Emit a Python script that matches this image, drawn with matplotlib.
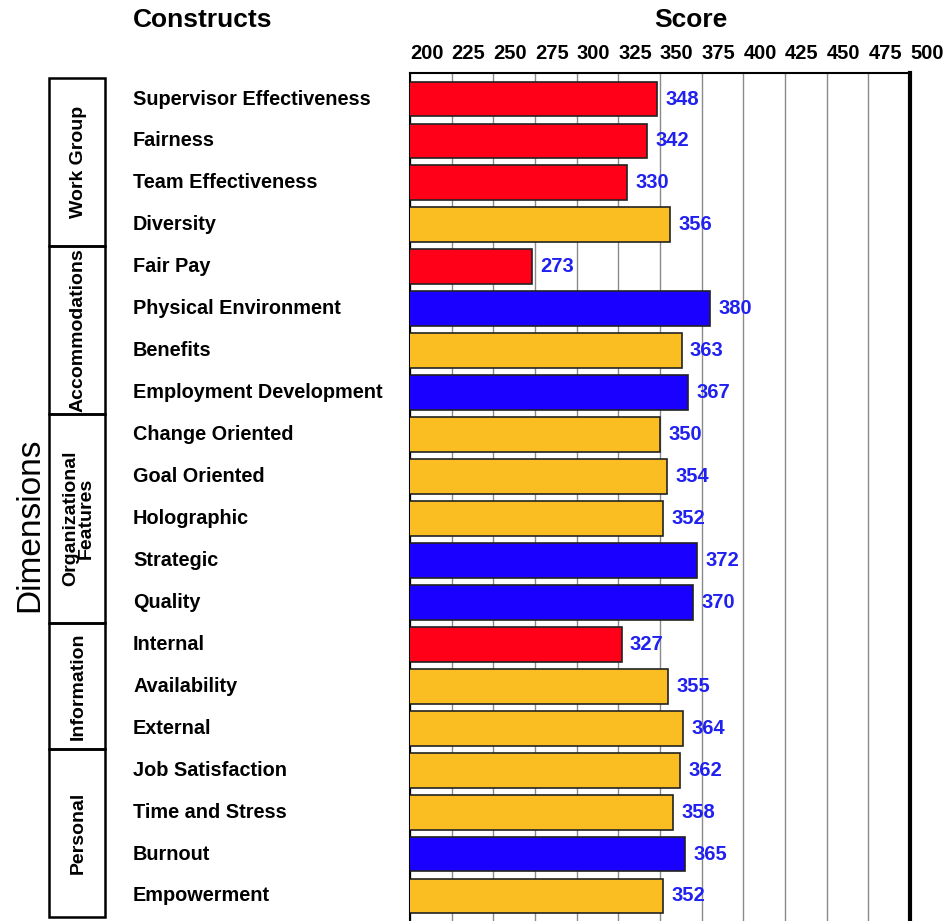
import matplotlib
matplotlib.use("Agg")
import matplotlib.pyplot as plt
from matplotlib.patches import Rectangle
from matplotlib.transforms import blended_transform_factory

plt.rcParams['font.family'] = ['Liberation Sans', 'DejaVu Sans']

constructs = [
    "Supervisor Effectiveness", "Fairness", "Team Effectiveness", "Diversity",
    "Fair Pay", "Physical Environment", "Benefits", "Employment Development",
    "Change Oriented", "Goal Oriented", "Holographic", "Strategic", "Quality",
    "Internal", "Availability", "External",
    "Job Satisfaction", "Time and Stress", "Burnout", "Empowerment",
]
scores = [348, 342, 330, 356, 273, 380, 363, 367, 350, 354, 352, 372, 370,
          327, 355, 364, 362, 358, 365, 352]
levels = ["low", "low", "low", "mid", "low", "high", "mid", "high",
          "mid", "mid", "mid", "high", "high", "low", "mid", "mid",
          "mid", "mid", "high", "mid"]
dimensions = ["Work Group", "Accommodations", "Organizational\nFeatures",
              "Information", "Personal"]
dimension_sizes = [4, 4, 5, 3, 4]
score_ticks = list(range(200, 501, 25))

level_colors = {"low": "#FF0018", "mid": "#FBBE22", "high": "#1A00FF"}

W, H = 952, 921
fig = plt.figure(figsize=(W / 100, H / 100), dpi=100)

n = len(constructs)
pad = 0.62
top_px, bot_px = 73, 922
ax = fig.add_axes([410 / W, (H - bot_px) / H, 500 / W, (bot_px - top_px) / H])
ax.set_xlim(200, 500)
ax.set_ylim(n - 1 + pad, -pad)

ypos = list(range(n))
ax.barh(ypos, scores, height=0.83,
        color=[level_colors[l] for l in levels],
        edgecolor="#222222", linewidth=1.2, zorder=3)

for y, v in zip(ypos, scores):
    ax.annotate(str(v), (v, y), xytext=(6, 0), textcoords="offset points",
                va="center", ha="left", fontsize=14.5, fontweight="bold",
                color="#2020F0", zorder=4)

ax.set_xticks(score_ticks)
ax.set_xticklabels([str(t) for t in score_ticks], fontweight="bold",
                   fontsize=14.5, ha="left")
ax.xaxis.tick_top()
ax.tick_params(axis="x", length=0, pad=7)
ax.set_yticks([])
ax.grid(axis="x", color="#8a8a8a", linewidth=1.0, zorder=0)
ax.set_axisbelow(True)

ax.spines["bottom"].set_visible(False)
ax.spines["top"].set_linewidth(1.5)
ax.spines["left"].set_linewidth(1.5)
ax.spines["right"].set_linewidth(3)

# Construct names to the left of the bars
trans = blended_transform_factory(fig.transFigure, ax.transData)
for y, name in zip(ypos, constructs):
    ax.text(133 / W, y, name, transform=trans, ha="left", va="center",
            fontsize=14.3, fontweight="bold", clip_on=False)

# Dimension group boxes
gax = fig.add_axes([49 / W, (H - bot_px) / H, 56 / W, (bot_px - top_px) / H])
gax.set_xlim(0, 1)
gax.set_ylim(n - 1 + pad, -pad)
gax.axis("off")
start = 0
for label, size in zip(dimensions, dimension_sizes):
    y0 = start - 0.5
    gax.add_patch(Rectangle((0, y0), 1, size, fill=False, edgecolor="black",
                            linewidth=1.8, clip_on=False))
    gax.text(0.52, y0 + size / 2, label, rotation=90, ha="center", va="center",
             fontsize=14, fontweight="bold", linespacing=0.9)
    start += size

fig.text(30 / W, 1 - 525 / H, "Dimensions", rotation=90, ha="center",
         va="center", fontsize=24)
fig.text(133 / W, 1 - 20 / H, "Constructs", ha="left", va="center",
         fontsize=19, fontweight="bold")
fig.text(691 / W, 1 - 20 / H, "Score", ha="center", va="center",
         fontsize=19, fontweight="bold")

fig.savefig("out.png", dpi=100)
